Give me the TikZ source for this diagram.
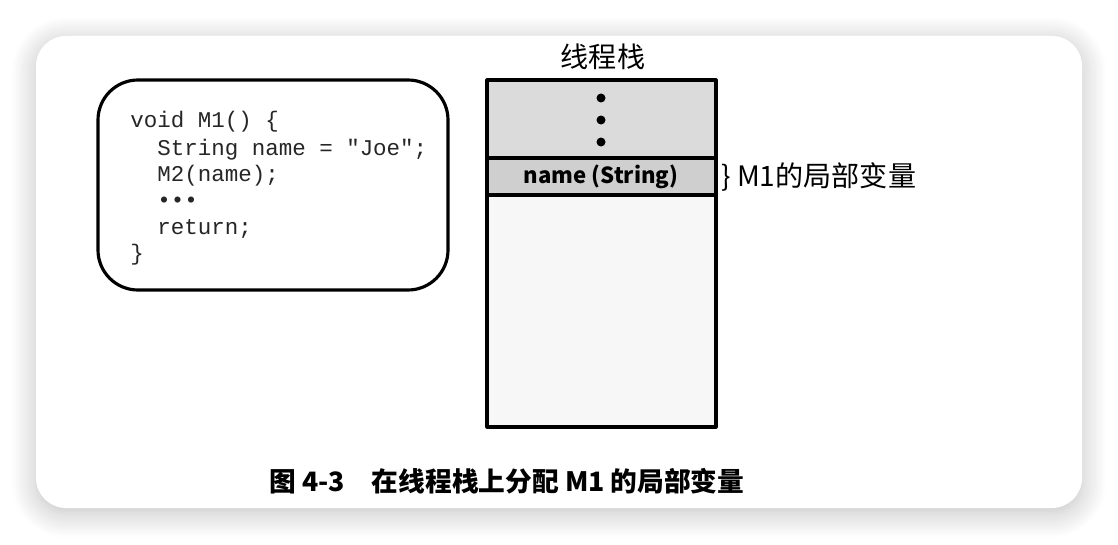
\documentclass[tikz,border=0pt]{standalone}
\usepackage{fontspec}
\setmainfont{Noto Sans CJK SC}
\newfontfamily\cjk{Noto Sans CJK SC}
\setmonofont{Liberation Mono}
\usetikzlibrary{shadows.blur}

\begin{document}
\begin{tikzpicture}[x=0.02cm, y=-0.02cm, line join=round, line cap=round,
	card/.style={fill=white, rounded corners=0.6cm, blur shadow={shadow xshift=0pt, shadow yshift=-3pt, shadow blur radius=14pt, shadow blur steps=12, shadow opacity=25}},
	codebox/.style={draw, line width=1.8pt, rounded corners=0.8cm, fill=white},
	code/.style={anchor=base west, inner sep=0pt, font=\ttfamily\fontsize{12.8}{15}\selectfont, text=black!85},
	stackline/.style={line width=1.8pt},
	cjklabel/.style={font=\cjk\fontsize{16}{18}\selectfont, inner sep=0pt}]
	\def\sl{487} \def\sr{716} \def\st{80} \def\sa{158} \def\sb{195} \def\sd{427}
	\useasboundingbox (0,0) rectangle (1118,544);
	% card with shadow
	\path[card] (36,36) rectangle (1082,508);
	% code of M1
	\draw[codebox] (98,80) rectangle (448,290);
	\node[code] (l1) at (130,127) {void M1() \{};
	\node[code] (l2) at (157,155) {String name = "Joe";};
	\node[code] (l3) at (157,181) {M2(name);};
	\node[code] (l4) at (157,207) {•••};
	\node[code] (l5) at (157,234) {return;};
	\node[code] (l6) at (130,260) {\}};
	% thread stack
	\fill[gray!28] (\sl,\st) rectangle (\sr,\sa);
	\fill[gray!38] (\sl,\sa) rectangle (\sr,\sb);
	\fill[gray!6] (\sl,\sb) rectangle (\sr,\sd);
	\draw[stackline] (\sl,\st) rectangle (\sr,\sd);
	\draw[stackline] (\sl,\sa) -- (\sr,\sa);
	\draw[stackline] (\sl,\sb) -- (\sr,\sb);
	\foreach \y in {98,120,142}
		\fill (601,\y) circle (4.5);
	\node[font=\bfseries\fontsize{12.6}{15}\selectfont, inner sep=0pt] (var) at (601,177) {name (String)};
	\node[cjklabel] (title) at (603,57) {线程栈};
	\node[cjklabel, anchor=west] (local) at (721,177) {\} M1的局部变量};
	% caption
	\node[font=\cjk\bfseries\fontsize{15.2}{18}\selectfont, inner sep=0pt] (cap) at (507,481) {图 4-3\quad 在线程栈上分配 M1 的局部变量};
\end{tikzpicture}
\end{document}
